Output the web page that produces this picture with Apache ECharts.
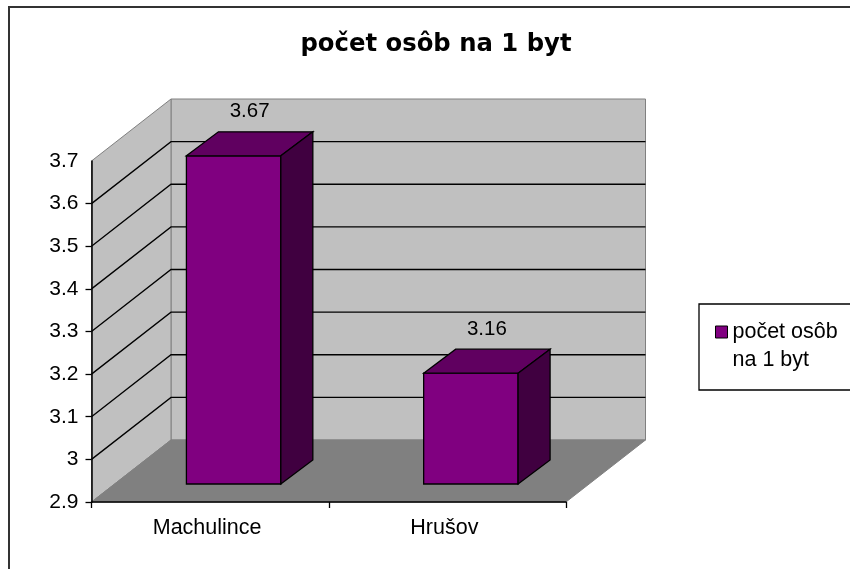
<!DOCTYPE html>
<html><head><meta charset="utf-8">
<style>html,body{margin:0;padding:0;background:#fff}#c{width:850px;height:569px}</style>
<script src="https://cdn.jsdelivr.net/npm/echarts@6/dist/echarts.min.js"></script>
</head><body><div id="c"></div>
<script>
const titleText = 'počet osôb na 1 byt';
const seriesName = 'počet osôb na 1 byt';
const categories = ['Machulince', 'Hrušov'];
const values = [3.67, 3.16];
const yMin = 2.9, yMax = 3.7, yStep = 0.1;
const gridTicks = [3, 3.1, 3.2, 3.3, 3.4, 3.5, 3.6];
const tickMarks = [2.9, 3, 3.1, 3.2, 3.3, 3.4, 3.5, 3.6];

const WALL = [79.5, -62], FRONT = [23.5, -18], DEPTH = [32, -24], BARFRAC = 0.398;
const FONT = 'Liberation Sans';
const shift = (p, d) => [p[0] + d[0], p[1] + d[1]];
const chart = echarts.init(document.getElementById('c'), null, {renderer: 'canvas'});

function poly(points, fill, stroke, lw) {
  return {type: 'polygon', shape: {points}, style: {fill, stroke: stroke || null, lineWidth: lw || 1}};
}
function renderWalls(params, api) {
  const cs = params.coordSys;
  const L = cs.x, R = cs.x + cs.width, T = cs.y, B = cs.y + cs.height;
  const a = [L, T], b = [L, B], c = [R, B];
  return {type: 'group', children: [
    poly([shift(a, WALL), shift([R, T], WALL), shift(c, WALL), shift(b, WALL)], '#c0c0c0', '#808080'),
    poly([a, shift(a, WALL), shift(b, WALL), b], '#c0c0c0', '#808080'),
    poly([b, shift(b, WALL), shift(c, WALL), c], '#808080', '#808080')
  ]};
}
function renderGrid(params, api) {
  const p = api.coord([0, api.value(0)]);
  const cs = params.coordSys;
  const l = [cs.x, p[1]], r = [cs.x + cs.width, p[1]];
  return {type: 'polyline', shape: {points: [l, shift(l, WALL), shift(r, WALL)]},
    style: {fill: null, stroke: '#000', lineWidth: 1.3}};
}
function renderBar(params, api) {
  const idx = api.value(0), v = api.value(1);
  const w = api.size([1, 0])[0] * BARFRAC;
  const top = shift(api.coord([idx, v]), FRONT);
  const bot = shift(api.coord([idx, yMin]), FRONT);
  const tl = [top[0] - w / 2, top[1]], tr = [top[0] + w / 2, top[1]];
  const bl = [bot[0] - w / 2, bot[1]], br = [bot[0] + w / 2, bot[1]];
  const s = '#000';
  return {type: 'group', children: [
    poly([tl, tr, br, bl], api.visual('color'), s, 1.3),
    poly([tl, shift(tl, DEPTH), shift(tr, DEPTH), tr], '#600060', s, 1.3),
    poly([tr, shift(tr, DEPTH), shift(br, DEPTH), br], '#400040', s, 1.3),
    {type: 'text', style: {text: String(v), x: top[0] + DEPTH[0] / 2, y: top[1] + DEPTH[1] - 20,
      align: 'center', verticalAlign: 'middle', fill: '#000', font: '20.5px "' + FONT + '"'}}
  ]};
}
chart.setOption({
  animation: false,
  backgroundColor: '#fff',
  title: {text: titleText, left: 431, top: 28, textAlign: 'center',
    textStyle: {fontFamily: 'DejaVu Sans', fontWeight: 'bold', fontSize: 24.3, color: '#000'}},
  graphic: [{type: 'rect', shape: {x: 9, y: 7, width: 900, height: 600}, silent: true, z: -1,
    style: {fill: null, stroke: '#333', lineWidth: 2}}],
  legend: {
    left: 699, top: 304, orient: 'vertical',
    backgroundColor: '#fff', borderColor: '#000', borderWidth: 1.3,
    padding: [14, 30, 16, 16], itemWidth: 12, itemHeight: 40, itemGap: 0,
    data: [{name: seriesName, icon: 'path://M0 0H12V12H0Z M0 40L0 40',
      itemStyle: {color: '#800080', borderColor: '#000', borderWidth: 1}}],
    formatter: () => 'počet osôb\nna 1 byt',
    textStyle: {fontFamily: FONT, fontSize: 21.5, lineHeight: 28, color: '#000'}
  },
  grid: {left: 91.5, top: 161, width: 474.5, height: 341},
  xAxis: {type: 'category', data: categories, z: 10,
    axisLine: {lineStyle: {color: '#000', width: 1.5}},
    axisTick: {show: true, alignWithLabel: false, length: 6, lineStyle: {color: '#000', width: 1.3}},
    axisLabel: {fontFamily: FONT, fontSize: 21.5, color: '#000', margin: 15, padding: [0, 6, 0, 0]},
    splitLine: {show: false}},
  yAxis: {type: 'value', min: yMin, max: yMax, interval: yStep, z: 10,
    axisLine: {show: true, onZero: false, lineStyle: {color: '#000', width: 1.5}},
    axisTick: {show: true, length: 6, customValues: tickMarks, lineStyle: {color: '#000', width: 1.3}},
    axisLabel: {fontFamily: FONT, fontSize: 21, color: '#000', margin: 13,
      formatter: v => String(Math.round(v * 10) / 10)},
    splitLine: {show: false}},
  series: [
    {type: 'custom', name: 'walls', silent: true, z: 1, clip: false, data: [[0]], renderItem: renderWalls, encode: {x: 0}},
    {type: 'custom', name: 'grid', silent: true, z: 2, clip: false, data: gridTicks.map(v => [v]), renderItem: renderGrid, encode: {y: 0}},
    {type: 'custom', name: seriesName, z: 3, clip: false, itemStyle: {color: '#800080'},
      data: values.map((v, i) => [i, v]), renderItem: renderBar, encode: {x: 0, y: 1}}
  ]
});
</script></body></html>
